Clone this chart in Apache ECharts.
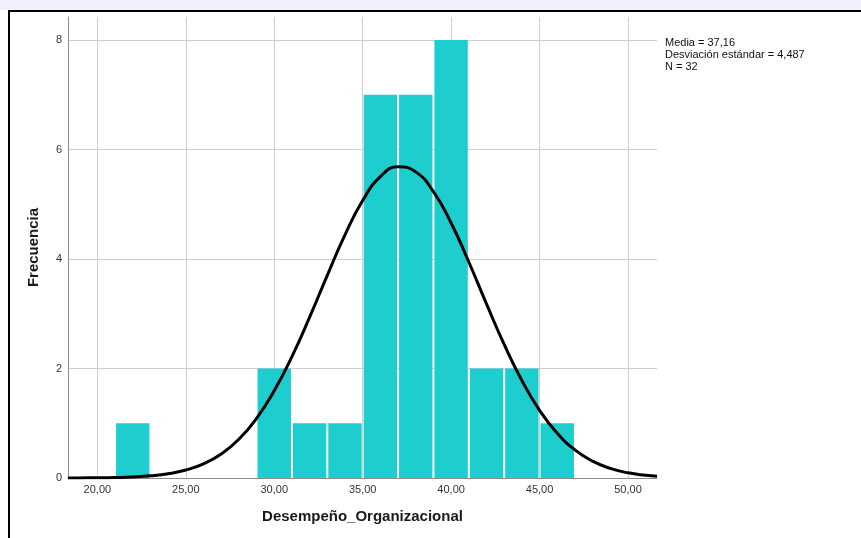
<!DOCTYPE html>
<html>
<head>
<meta charset="utf-8">
<script src="https://cdn.jsdelivr.net/npm/echarts@6/dist/echarts.min.js"></script>
<style>
html,body{margin:0;padding:0;background:#fff;}
#chart{width:861px;height:538px;}
</style>
</head>
<body>
<div id="chart"></div>
<script>
// Histogram bins (lower edges), bin width and counts
var binStarts = [21, 29, 31, 33, 35, 37, 39, 41, 43, 45];
var binWidth = 2;
var counts = [1, 2, 1, 1, 7, 7, 8, 2, 2, 1];

// Fitted normal curve
var curveX = [18.34, 19, 20, 21, 22, 23, 24, 25, 26, 27, 28, 29, 30, 31, 32, 33, 34, 35, 36, 37, 38, 39, 40, 41, 42, 43, 44, 45, 46, 47, 48, 49, 50, 51, 51.64];
var curveY = [0.001, 0.002, 0.004, 0.009, 0.019, 0.039, 0.077, 0.145, 0.258, 0.438, 0.708, 1.088, 1.593, 2.217, 2.937, 3.702, 4.440, 5.068, 5.503, 5.686, 5.591, 5.231, 4.657, 3.945, 3.180, 2.439, 1.780, 1.236, 0.817, 0.514, 0.307, 0.175, 0.095, 0.049, 0.031];

var statLines = ['Media = 37,16', 'Desviación estándar = 4,487', 'N = 32'];

var xMin = 18.34, xMax = 51.64, yMax = 8.42;

var barData = binStarts.map(function (s, i) { return [s, s + binWidth, counts[i]]; });
var curveData = curveX.map(function (x, i) { return [x, curveY[i]]; });

var chart = echarts.init(document.getElementById('chart'), null, {renderer: 'canvas'});
var font = 'Liberation Sans, Arial, sans-serif';

chart.setOption({
  animation: false,
  backgroundColor: '#ffffff',
  grid: {left: 68, right: 204, top: 17, bottom: 60, containLabel: false},
  xAxis: {
    type: 'value',
    min: xMin, max: xMax,
    minInterval: 5, maxInterval: 5, splitNumber: 6,
    name: 'Desempeño_Organizacional',
    nameLocation: 'middle',
    nameGap: 31,
    nameTextStyle: {fontFamily: font, fontSize: 15, fontWeight: 'bold', color: '#1a1a1a'},
    axisLine: {show: true, onZero: false, lineStyle: {color: '#8c8c8c', width: 1}},
    axisTick: {show: false},
    axisLabel: {
      showMinLabel: false, showMaxLabel: false,
      margin: 6, fontFamily: font, fontSize: 11, color: '#333',
      formatter: function (v) { return v.toFixed(2).replace('.', ','); }
    },
    splitLine: {show: true, showMinLine: false, showMaxLine: false, lineStyle: {color: '#cfcfcf', width: 1}}
  },
  yAxis: {
    type: 'value',
    min: 0, max: yMax, interval: 2,
    name: 'Frecuencia',
    nameLocation: 'middle',
    nameGap: 27,
    nameTextStyle: {fontFamily: font, fontSize: 15, fontWeight: 'bold', color: '#1a1a1a'},
    axisLine: {show: true, lineStyle: {color: '#8c8c8c', width: 1}},
    axisTick: {show: false},
    axisLabel: {
      showMaxLabel: false, margin: 6, fontFamily: font, fontSize: 11, color: '#333',
      formatter: function (v) { return (Math.abs(v - Math.round(v)) < 1e-6) ? String(Math.round(v)) : ''; }
    },
    splitLine: {show: true, showMinLine: false, showMaxLine: false, lineStyle: {color: '#cfcfcf', width: 1}}
  },
  series: [
    {
      type: 'custom',
      data: barData,
      encode: {x: [0, 1], y: 2},
      renderItem: function (params, api) {
        var p0 = api.coord([api.value(0), api.value(2)]);
        var p1 = api.coord([api.value(1), 0]);
        return {
          type: 'rect',
          shape: {x: p0[0] + 1, y: p0[1], width: p1[0] - p0[0] - 2, height: p1[1] - p0[1]},
          style: {fill: '#1ecdcd'}
        };
      },
      z: 2
    },
    {
      type: 'line',
      data: curveData,
      smooth: true,
      showSymbol: false,
      symbol: 'none',
      lineStyle: {color: '#000', width: 3},
      z: 3
    }
  ],
  graphic: [
    {type: 'rect', left: 0, top: 0, shape: {width: 861, height: 10}, style: {fill: '#f1f1fb'}, z: -1},
    {type: 'rect', shape: {x: 9, y: 11, width: 900, height: 600}, style: {fill: null, stroke: '#000', lineWidth: 2}, z: 10},
    {
      type: 'text', left: 665, top: 37,
      style: {text: statLines.join('\n'), font: '11px ' + font, fill: '#111', lineHeight: 12}
    }
  ]
});
</script>
</body>
</html>
